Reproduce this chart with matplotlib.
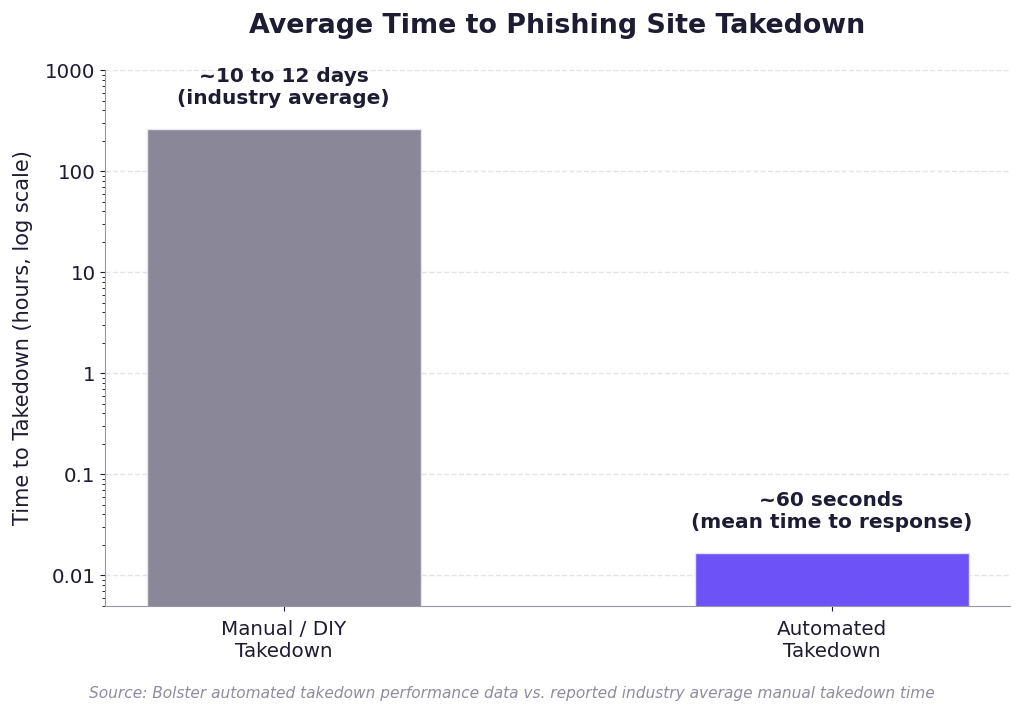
import matplotlib
matplotlib.use("Agg")
import matplotlib.pyplot as plt

plt.rcParams["font.family"] = ["DejaVu Sans"]

# Data (hours)
categories = ["Manual / DIY\nTakedown", "Automated\nTakedown"]
hours = [11 * 24, 60 / 3600]
labels = ["~10 to 12 days\n(industry average)", "~60 seconds\n(mean time to response)"]
colors = ["#8a8898", "#6c52f7"]

text_col = "#1e1c33"
spine_col = "#9896a8"

fig, ax = plt.subplots(figsize=(10.24, 7.16), dpi=100)
fig.subplots_adjust(left=0.103, right=0.986, top=0.902, bottom=0.154)

x = range(len(categories))
bars = ax.bar(x, hours, width=0.5, color=colors, edgecolor="#e6e4f2", linewidth=1, zorder=3)
ax.set_yscale("log")
ax.set_ylim(0.005, 1000)
ax.set_yticks([0.01, 0.1, 1, 10, 100, 1000])
ax.set_yticklabels(["0.01", "0.1", "1", "10", "100", "1000"])

for b, h, lab in zip(bars, hours, labels):
    ax.annotate(lab, (b.get_x() + b.get_width() / 2, h), xytext=(0, 15),
                textcoords="offset points", ha="center", va="bottom",
                fontsize=14.5, fontweight="bold", color=text_col)

ax.set_xticks(list(x))
ax.set_xticklabels(categories, fontsize=14.3, color=text_col)
ax.tick_params(axis="x", pad=6.5)
ax.tick_params(axis="y", labelsize=14.3, colors=text_col)
ax.tick_params(axis="both", color=text_col)
ax.set_ylabel("Time to Takedown (hours, log scale)", fontsize=15, color=text_col, labelpad=9)
ax.set_title("Average Time to Phishing Site Takedown", fontsize=19.4, fontweight="bold",
             color=text_col, pad=27)

ax.grid(axis="y", which="major", linestyle="--", color="#e4e4e8", linewidth=1, zorder=0)
for s in ["top", "right"]:
    ax.spines[s].set_visible(False)
for s in ["left", "bottom"]:
    ax.spines[s].set_color(spine_col)

fig.text(0.5, 0.025, "Source: Bolster automated takedown performance data vs. reported industry average manual takedown time",
         ha="center", fontsize=11.1, style="italic", color="#8e8c9e")

fig.savefig("out.png")
